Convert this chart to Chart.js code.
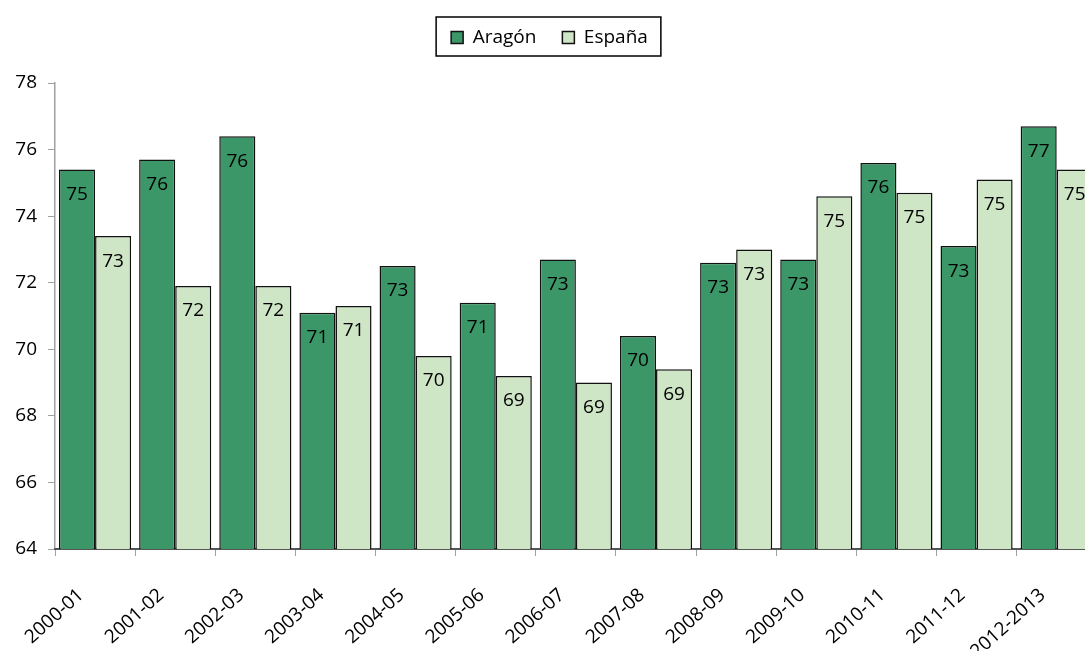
<!DOCTYPE html>
<html>
<head>
<meta charset="utf-8">
<script src="https://cdn.jsdelivr.net/npm/chart.js@4"></script>
<style>
  body { margin: 0; overflow: hidden; background: #fff; }
  #wrap { width: 1100px; height: 651px; position: relative; }
</style>
</head>
<body>
<div id="wrap"><canvas id="bar-chart"></canvas></div>
<script>
var labels = ["2000-01", "2001-02", "2002-03", "2003-04", "2004-05", "2005-06", "2006-07",
              "2007-08", "2008-09", "2009-10", "2010-11", "2011-12", "2012-2013"];
var aragon = [75.4, 75.7, 76.4, 71.1, 72.5, 71.4, 72.7, 70.4, 72.6, 72.7, 75.6, 73.1, 76.7];
var espana = [73.4, 71.9, 71.9, 71.3, 69.8, 69.2, 69.0, 69.4, 73.0, 74.6, 74.7, 75.1, 75.4];
var yTicks = [64, 66, 68, 70, 72, 74, 76, 78];

var FONT = "'Open Sans', sans-serif";

// numbers inside the bars, near the top
const barLabels = {
    id: 'barLabels',
    afterDatasetsDraw(chart) {
        const ctx = chart.ctx;
        ctx.save();
        ctx.font = "19px " + FONT;
        ctx.fillStyle = "#000";
        ctx.textAlign = "center";
        ctx.textBaseline = "middle";
        chart.data.datasets.forEach(function (ds, i) {
            chart.getDatasetMeta(i).data.forEach(function (bar, j) {
                ctx.fillText(Math.round(ds.data[j]), bar.x, bar.y + 25);
            });
        });
        ctx.restore();
    }
};

// extra room under the legend + frame round it
const legendBox = {
    id: 'legendBox',
    beforeLayout(chart) {
        const lg = chart.legend;
        if (lg && !lg._patched) {
            const fit = lg.fit;
            lg.fit = function () {
                fit.apply(this, arguments);
                this.height += 26;
            };
            lg._patched = true;
        }
    },
    afterDraw(chart) {
        const lg = chart.legend;
        if (!lg || !lg.legendHitBoxes.length) return;
        const first = lg.legendHitBoxes[0];
        const last = lg.legendHitBoxes[lg.legendHitBoxes.length - 1];
        const ctx = chart.ctx;
        ctx.save();
        ctx.strokeStyle = "#000";
        ctx.lineWidth = 1.5;
        ctx.strokeRect(first.left - 15, first.top - 11, last.left + last.width - first.left + 28, first.height + 20);
        ctx.restore();
    }
};

const config = {
    type: 'bar',
    data: {
        labels: labels,
        datasets: [{
            label: "Aragón",
            data: aragon,
            backgroundColor: "#3b9668",
            borderColor: "#111",
            borderWidth: 1.5,
            borderSkipped: 'bottom'
        }, {
            label: "España",
            data: espana,
            backgroundColor: "#cee5c6",
            borderColor: "#111",
            borderWidth: 1.5,
            borderSkipped: 'bottom'
        }]
    },
    options: {
        responsive: true,
        maintainAspectRatio: false,
        animation: false,
        layout: { padding: { top: 2, right: 1, left: 0, bottom: 0 } },
        datasets: { bar: { barPercentage: 1, categoryPercentage: 0.9 } },
        plugins: {
            legend: {
                position: 'top',
                labels: {
                    font: { family: FONT, size: 19 },
                    color: "#000",
                    boxWidth: 12,
                    boxHeight: 12,
                    padding: 26
                }
            },
            tooltip: { enabled: false }
        },
        scales: {
            y: {
                min: 64,
                max: 78,
                afterBuildTicks: function (axis) {
                    axis.ticks = yTicks.map(function (v) { return { value: v }; });
                },
                afterFit: function (axis) { axis.width = 55; },
                ticks: { font: { family: FONT, size: 19 }, color: "#000", padding: 11 },
                grid: { drawOnChartArea: false, color: "#a0a0a0", tickLength: 7 },
                border: { color: "#a0a0a0", width: 1.5 }
            },
            x: {
                afterFit: function (axis) { axis.height = 102; },
                ticks: { font: { family: FONT, size: 19 }, color: "#000", minRotation: 42, maxRotation: 42,
                         padding: 28, labelOffset: -14 },
                grid: { drawOnChartArea: false, offset: true, color: "#a0a0a0", tickLength: 7 },
                border: { color: "#555", width: 2 }
            }
        }
    },
    plugins: [barLabels, legendBox]
};

const myChart = new Chart(document.getElementById('bar-chart'), config);
</script>
</body>
</html>
